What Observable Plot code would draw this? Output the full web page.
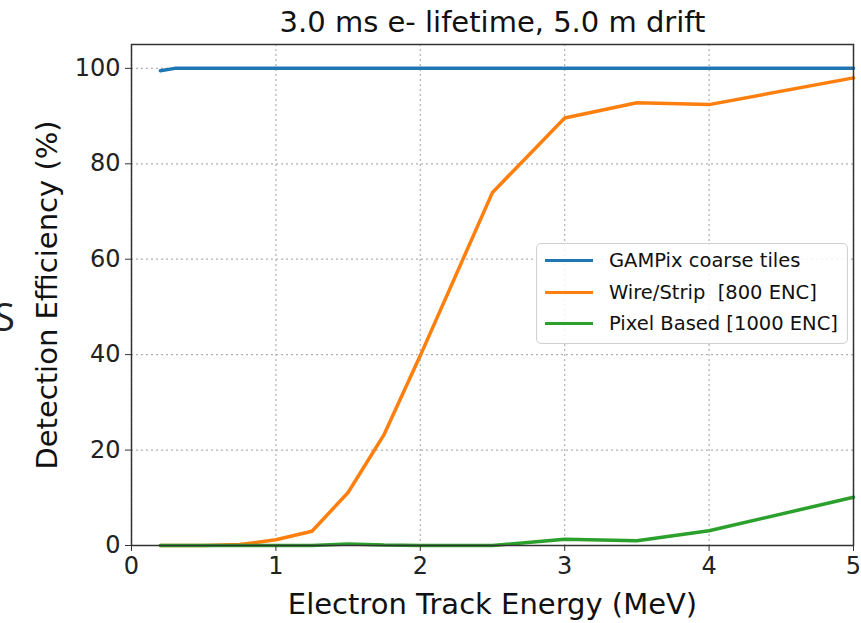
<!DOCTYPE html>
<html>
<head>
<meta charset="utf-8">
<script src="https://cdn.jsdelivr.net/npm/d3@7"></script>
<script src="https://cdn.jsdelivr.net/npm/@observablehq/plot@0.6"></script>
<style>
  body { margin: 0; background: #fff; }
  #wrap { position: relative; width: 861px; height: 623px; overflow: hidden; font-family: "DejaVu Sans", sans-serif; }
  #legend { position: absolute; left: 536px; top: 243px; width: 312px; height: 101px; box-sizing: border-box;
    border: 1.5px solid #d0d0d0; border-radius: 5px; background: rgba(255,255,255,0.85);
    font-family: "DejaVu Sans", sans-serif; font-size: 19.5px; color: #111; }
  .row { position: absolute; left: 8px; display: flex; align-items: center; white-space: nowrap; }
  .sw { width: 48px; height: 0; border-top: 3.5px solid; margin-right: 16px; }
  #stray { position: absolute; left: -6px; top: 297px; line-height: 1; font-family: "Open Sans", sans-serif; font-size: 38px; color: #222; }
</style>
</head>
<body>
<div id="wrap">
  <div id="chart"></div>
  <div id="stray">S</div>
  <div id="legend"></div>
</div>
<script>
const energy = [0.2, 0.3, 0.5, 0.75, 1.0, 1.25, 1.5, 1.75, 2.0, 2.5, 3.0, 3.5, 4.0, 5.0];
const gampix = [99.5, 100, 100, 100, 100, 100, 100, 100, 100, 100, 100, 100, 100, 100];
const wireStrip = [0, 0, 0, 0.2, 1.2, 3.0, 11.1, 23.3, 39.8, 74.0, 89.6, 92.8, 92.4, 98.0];
const pixelBased = [0, 0, 0, 0, 0, 0, 0.3, 0.1, 0, 0, 1.3, 1.0, 3.1, 10.1];
const seriesNames = ["GAMPix coarse tiles", "Wire/Strip  [800 ENC]", "Pixel Based [1000 ENC]"];
const seriesColors = ["#1f77b4", "#ff7f0e", "#2ca02c"];
const xTicks = [0, 1, 2, 3, 4, 5];
const yTicks = [0, 20, 40, 60, 80, 100];
const title = "3.0 ms e- lifetime, 5.0 m drift";
const xLabel = "Electron Track Energy (MeV)";
const yLabel = "Detection Efficiency (%)";

const allSeries = [gampix, wireStrip, pixelBased];
const rows = [];
allSeries.forEach((vals, i) => vals.forEach((v, j) => rows.push({x: energy[j], y: v, s: seriesNames[i]})));

const chart = Plot.plot({
  width: 861, height: 623,
  marginLeft: 131, marginRight: 8, marginTop: 44, marginBottom: 78,
  style: { fontFamily: "DejaVu Sans, sans-serif", color: "#222", background: "#fff" },
  x: { domain: [0, 5] },
  y: { domain: [0, 105] },
  color: { domain: seriesNames, range: seriesColors },
  marks: [
    Plot.gridX(xTicks, { stroke: "#b0b0b0", strokeOpacity: 1, strokeDasharray: "2,3", strokeWidth: 1.2 }),
    Plot.gridY(yTicks, { stroke: "#b0b0b0", strokeOpacity: 1, strokeDasharray: "2,3", strokeWidth: 1.2 }),
    Plot.line(rows, { x: "x", y: "y", z: "s", stroke: "s", strokeWidth: 3.5, strokeLinejoin: "miter" }),
    Plot.frame({ stroke: "#333", strokeWidth: 1.5 }),
    Plot.axisX(xTicks, { tickSize: 6, tickPadding: 5, fontSize: 24, tickFormat: "d", label: null, stroke: "#333" }),
    Plot.axisY(yTicks, { tickSize: 6, tickPadding: 5, fontSize: 24, tickFormat: "d", label: null, stroke: "#333" }),
    Plot.text([title], { frameAnchor: "top", lineAnchor: "middle", dy: -22, fontSize: 29, fill: "#111" }),
    Plot.text([xLabel], { frameAnchor: "bottom", lineAnchor: "middle", dy: 59, fontSize: 29, fill: "#111" }),
    Plot.text([yLabel], { frameAnchor: "left", textAnchor: "middle", lineAnchor: "middle", dx: -84, rotate: -90, fontSize: 29, fill: "#111" })
  ]
});
document.getElementById("chart").appendChild(chart);

const legend = document.getElementById("legend");
const rowTops = [5, 37, 68];
seriesNames.forEach((n, i) => {
  const r = document.createElement("div");
  r.className = "row";
  r.style.top = rowTops[i] + "px";
  r.innerHTML = `<span class="sw" style="border-color:${seriesColors[i]}"></span><span>${n.replace(/ /g, "&nbsp;")}</span>`;
  legend.appendChild(r);
});
</script>
</body>
</html>
